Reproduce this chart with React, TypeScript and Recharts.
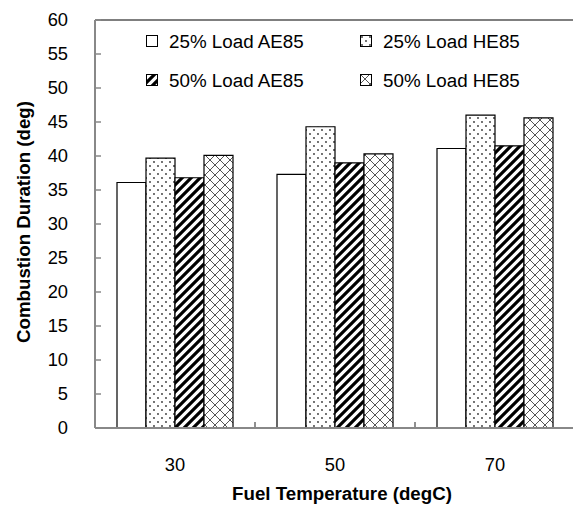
import React from 'react';
import { BarChart, Bar, XAxis, YAxis, ReferenceLine, Legend } from 'recharts';

const categories = ['30', '50', '70'];
const load25AE85 = [36.1, 37.3, 41.1];
const load25HE85 = [39.7, 44.3, 46.0];
const load50AE85 = [36.8, 39.0, 41.5];
const load50HE85 = [40.1, 40.3, 45.6];
const yTicks = [0, 5, 10, 15, 20, 25, 30, 35, 40, 45, 50, 55, 60];
const seriesNames = ['25% Load AE85', '25% Load HE85', '50% Load AE85', '50% Load HE85'];
const seriesKeys = ['l25ae', 'l25he', 'l50ae', 'l50he'];

const data = categories.map((c, i) => ({
  cat: c,
  l25ae: load25AE85[i],
  l25he: load25HE85[i],
  l50ae: load50AE85[i],
  l50he: load50HE85[i],
}));

const FONT = '"Liberation Sans", Arial, sans-serif';
const fills = ['#ffffff', 'url(#pDots)', 'url(#pHatch)', 'url(#pCross)'];

const XTick = (props: any) => {
  const { x, y, payload } = props;
  const off = payload && typeof payload.offset === 'number' ? payload.offset : 80;
  const axisY = y - 30;
  return (
    <g>
      <line x1={x - off} x2={x - off} y1={axisY} y2={axisY - 6} stroke="#888" strokeWidth={1.5} />
      <line x1={x + off} x2={x + off} y1={axisY} y2={axisY - 6} stroke="#888" strokeWidth={1.5} />
      <text x={x} y={y} dy="0.71em" textAnchor="middle" fontSize={18.3} fontFamily={FONT} fill="#000">
        {payload.value}
      </text>
    </g>
  );
};

const LegendContent = (props: any) => {
  const payload = props.payload || [];
  return (
    <div
      style={{
        position: 'absolute',
        left: 146,
        top: 22,
        display: 'grid',
        gridTemplateColumns: '214px 214px',
        gridAutoRows: '39px',
        fontFamily: FONT,
        fontSize: 18.8,
        color: '#000',
      }}
    >
      {payload.map((entry: any, i: number) => {
        const idx = seriesKeys.indexOf(entry.dataKey);
        const fill = fills[idx >= 0 ? idx : i];
        return (
          <div key={i} style={{ display: 'flex', alignItems: 'center', whiteSpace: 'nowrap' }}>
            <svg width={13} height={13} style={{ marginRight: 10 }}>
              <rect x={0.5} y={0.5} width={11} height={11} fill={fill} stroke="#000" strokeWidth={1} />
            </svg>
            <span>{entry.value}</span>
          </div>
        );
      })}
    </div>
  );
};

export default function App() {
  return (
    <div style={{ position: 'absolute', left: 0, top: 0, width: 573, height: 506, overflow: 'hidden', background: '#fff' }}>
      <BarChart
        width={580}
        height={506}
        data={data}
        margin={{ top: 20, right: 5, bottom: 0, left: 0 }}
        barCategoryGap="13.75%"
        barGap={0}
      >
        <defs>
          <pattern id="pDots" patternUnits="userSpaceOnUse" width={8} height={8}>
            <rect width={8} height={8} fill="#fff" />
            <circle cx={2} cy={2} r={0.9} fill="#333" />
            <circle cx={6} cy={6} r={0.9} fill="#333" />
          </pattern>
          <pattern id="pHatch" patternUnits="userSpaceOnUse" width={9} height={9}>
            <rect width={9} height={9} fill="#fff" />
            <path d="M-2,2 L2,-2 M0,9 L9,0 M7,11 L11,7" stroke="#000" strokeWidth={3.2} />
          </pattern>
          <pattern id="pCross" patternUnits="userSpaceOnUse" width={10} height={10}>
            <rect width={10} height={10} fill="#fff" />
            <path d="M0,0 L10,10 M10,0 L0,10" stroke="#555" strokeWidth={1} />
          </pattern>
        </defs>
        <XAxis
          dataKey="cat"
          height={78}
          axisLine={{ stroke: '#888', strokeWidth: 2 }}
          tickLine={false}
          tickSize={0}
          tickMargin={30}
          tick={<XTick />}
          label={{
            content: () => (
              <text x={342} y={500} textAnchor="middle" fontSize={18.7} fontWeight="bold" fontFamily={FONT} fill="#000">
                Fuel Temperature (degC)
              </text>
            ),
          }}
        />
        <YAxis
          width={95}
          domain={[0, 60]}
          ticks={yTicks}
          interval={0}
          allowDataOverflow
          axisLine={{ stroke: '#888', strokeWidth: 2 }}
          tickLine={{ stroke: '#888', strokeWidth: 1.5 }}
          tickSize={-6}
          tickMargin={33}
          tick={{ fill: '#000', fontSize: 18.3, fontFamily: FONT }}
          label={{
            content: () => (
              <text
                x={30}
                y={222}
                transform="rotate(-90 30 222)"
                textAnchor="middle"
                fontSize={18.7}
                fontWeight="bold"
                fontFamily={FONT}
                fill="#000"
              >
                Combustion Duration (deg)
              </text>
            ),
          }}
        />
        <ReferenceLine y={60} stroke="#555" strokeWidth={1.5} />
        <Legend
          layout="horizontal"
          verticalAlign="middle"
          align="center"
          wrapperStyle={{ position: 'absolute', left: 0, top: 0, width: 573, height: 100 }}
          content={<LegendContent />}
        />
        {seriesKeys.map((k, i) => (
          <Bar
            key={k}
            dataKey={k}
            name={seriesNames[i]}
            fill={fills[i]}
            stroke="#000"
            strokeWidth={1.2}
            isAnimationActive={false}
          />
        ))}
      </BarChart>
    </div>
  );
}
